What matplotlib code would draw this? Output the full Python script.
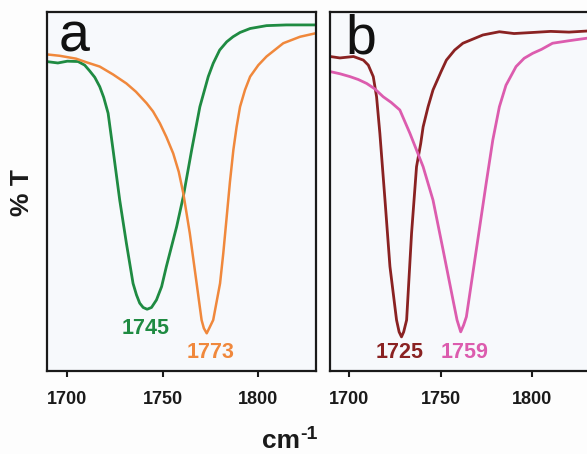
import matplotlib
matplotlib.use("Agg")
import matplotlib.pyplot as plt

plt.rcParams['font.family'] = ['Liberation Sans', 'DejaVu Sans']

# ---- data (wavenumber cm-1, %T arbitrary 0-100) ----
green_x = [1689, 1695, 1700, 1705.6, 1709.1, 1711.7, 1714.4, 1717, 1719.1, 1721.4, 1724, 1727.5,
           1731, 1734.5, 1736.3, 1738, 1739.8, 1741.9, 1744.2, 1746.8, 1749.5, 1752, 1757.4,
           1760.9, 1765.3, 1769.6, 1774, 1776.6, 1780, 1783.7, 1787, 1790.7, 1796, 1804.6,
           1815, 1830.6]
green_y = [86.2, 85.8, 86.3, 86.2, 85.2, 83.6, 81.8, 79.2, 76.2, 71.8, 61.6, 47.6,
           35.6, 24.4, 21.2, 18.9, 17.7, 17.2, 17.7, 19.8, 23.5, 29.1, 40.2,
           48.6, 61.6, 73.6, 82.0, 85.7, 89.4, 91.7, 93.1, 94.3, 95.4, 96.2,
           96.4, 96.4]

orange_x = [1689, 1696, 1704.6, 1710, 1717, 1724, 1731, 1736, 1741.6, 1745, 1748.6, 1752,
            1755.6, 1758.5, 1760.9, 1764.3, 1767.9, 1770.5, 1771.7, 1773.2, 1774.5, 1776.6,
            1780.2, 1781.9, 1783.7, 1785.4, 1787.2, 1788.9, 1790.7, 1793.3, 1796, 1800.3,
            1804.6, 1813.4, 1822.2, 1830.6]
orange_y = [88.2, 87.8, 87.0, 86.0, 84.8, 82.6, 80.1, 77.8, 74.6, 72.3, 69.0, 65.2,
            60.6, 55.5, 49.5, 38.4, 24.4, 14.2, 11.9, 10.5, 11.9, 14.2,
            24.4, 32.8, 43.0, 52.7, 61.6, 68.0, 73.6, 78.3, 82.0, 85.2,
            87.6, 91.3, 93.1, 94.1]

brown_x = [1689.7, 1695, 1702.4, 1707.8, 1710.5, 1713.2, 1715, 1716.8, 1719.6, 1722.3, 1725.9,
           1727.3, 1728.6, 1729.8, 1731.4, 1734.1, 1736.8, 1739.1, 1740.4, 1743.1, 1745.8,
           1750.2, 1753.1, 1757.6, 1762.1, 1773, 1782, 1790, 1800.2, 1810, 1820, 1829.8]
brown_y = [87.6, 87.2, 87.6, 86.6, 85.2, 82.0, 76.4, 66.2, 47.6, 29.1, 14.2,
           10.9, 9.5, 10.9, 14.2, 38.4, 56.9, 63.4, 68.0, 73.6, 78.3,
           83.4, 86.6, 89.4, 91.3, 93.6, 94.5, 94.0, 94.3, 94.6, 94.4, 94.7]

pink_x = [1689.7, 1695, 1700.5, 1705, 1709.6, 1714, 1718.6, 1723, 1727.7, 1733.2, 1740.4,
          1745.8, 1751.3, 1756.7, 1758.9, 1760.9, 1762.5, 1764, 1769.4, 1774.8, 1778.4,
          1782, 1785.6, 1791.1, 1795.5, 1800.2, 1805, 1811, 1820, 1829.8]
pink_y = [83.4, 82.8, 82.0, 81.2, 80.1, 78.6, 76.4, 74.8, 72.7, 66.2, 56.9,
          47.6, 33.7, 19.8, 14.2, 10.9, 12.8, 15.1, 33.7, 52.3, 64.3,
          73.6, 79.6, 84.8, 87.1, 88.5, 89.6, 91.3, 92.0, 92.7]

peak_labels_a = ["1745", "1773"]
peak_labels_b = ["1725", "1759"]
xticks = [1700, 1750, 1800]

C_GREEN = "#1f8b42"
C_ORANGE = "#f0883c"
C_BROWN = "#8a2222"
C_PINK = "#dc5cae"

W, H = 587, 454
fig = plt.figure(figsize=(W / 100, H / 100), dpi=100, facecolor="#fdfdfd")


def px_axes(x0, y0, x1, y1):
    return fig.add_axes([x0 / W, (H - y1) / H, (x1 - x0) / W, (y1 - y0) / H])


axA = px_axes(47, 12, 316, 371)
axB = px_axes(330, 12, 587, 371)

for ax, xl in ((axA, (1689.3, 1830.6)), (axB, (1689.6, 1829.8))):
    ax.set_facecolor("#f7f9fc")
    ax.set_xlim(*xl)
    ax.set_ylim(0, 100)
    ax.set_yticks([])
    ax.set_xticks(xticks)
    ax.tick_params(axis="x", direction="out", length=4, width=1.5, pad=10.5,
                   labelsize=13, colors="#1a1a1a")
    for lab in ax.get_xticklabels():
        lab.set_fontweight("bold")
    for s in ax.spines.values():
        s.set_linewidth(1.6)
        s.set_color("#1a1a1a")

axB.spines["right"].set_visible(False)

axA.plot(green_x, green_y, color=C_GREEN, lw=2.0, solid_joinstyle="round")
axA.plot(orange_x, orange_y, color=C_ORANGE, lw=1.8, solid_joinstyle="round")
axB.plot(brown_x, brown_y, color=C_BROWN, lw=2.0, solid_joinstyle="round")
axB.plot(pink_x, pink_y, color=C_PINK, lw=2.0, solid_joinstyle="round")


def ftext(x, y, s, **kw):
    fig.text(x / W, (H - y) / H, s, **kw)


lbl_kw = dict(ha="center", va="center", fontsize=15.5, fontweight="bold")
ftext(145.7, 329, peak_labels_a[0], color=C_GREEN, **lbl_kw)
ftext(210.7, 353, peak_labels_a[1], color=C_ORANGE, **lbl_kw)
ftext(399.3, 352, peak_labels_b[0], color=C_BROWN, **lbl_kw)
ftext(465, 352, peak_labels_b[1], color=C_PINK, **lbl_kw)

# panel letters
ftext(59, 51, "a", ha="left", va="baseline", fontsize=40, color="#111111")
ftext(345, 54, "b", ha="left", va="baseline", fontsize=40, color="#111111")

# axis titles
ftext(22, 193, "% T", ha="center", va="center", rotation=90, fontsize=19,
      fontweight="bold", color="#1a1a1a")
ftext(300, 448, "cm", ha="right", va="baseline", fontsize=19,
      fontweight="bold", color="#1a1a1a")
ftext(300.5, 439, "-1", ha="left", va="baseline", fontsize=14,
      fontweight="bold", color="#1a1a1a")

fig.savefig("out.png", dpi=100, facecolor=fig.get_facecolor())
